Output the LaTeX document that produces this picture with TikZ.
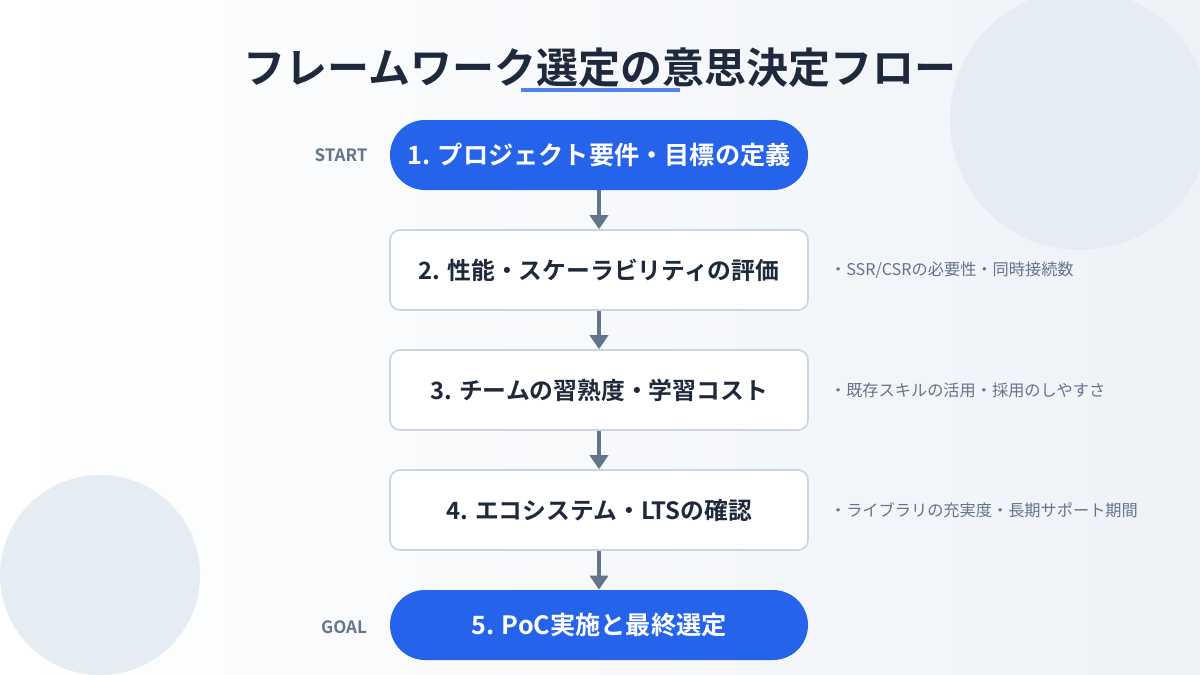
\documentclass[tikz,border=0pt]{standalone}
\usepackage{fontspec}
\setmainfont{Noto Sans CJK JP}
\newfontfamily\jpb{Noto Sans CJK JP Bold}
\usetikzlibrary{arrows.meta}
\definecolor{navy}{HTML}{1E293B}
\definecolor{blu}{HTML}{2563EB}
\definecolor{gry}{HTML}{64748B}
\definecolor{brd}{HTML}{CBD5E1}
\definecolor{circ}{HTML}{E6ECF4}
\definecolor{bgr}{HTML}{EEF2F7}
\tikzset{
 pill/.style={rectangle,rounded corners=17.5pt,fill=blu,minimum width=209pt,minimum height=35pt,text=white,font=\jpb\fontsize{12.6}{14}\selectfont},
 card/.style={rectangle,rounded corners=5pt,fill=white,draw=brd,line width=0.8pt,minimum width=209pt,minimum height=40pt,text=navy,font=\jpb\fontsize{11.9}{13}\selectfont},
 conn/.style={draw=gry,line width=2pt,-{Triangle[length=7pt,width=9pt]}},
 side/.style={anchor=west,text=gry,font=\fontsize{8.1}{9}\selectfont},
 tag/.style={text=gry,font=\jpb\fontsize{8.5}{10}\selectfont}
}
\begin{document}
\begin{tikzpicture}[x=0.5pt,y=-0.5pt]
\useasboundingbox (0,0) rectangle (1200,675);
\shade[left color=white,right color=bgr] (0,0) rectangle (1200,675);
\begin{scope}
\clip (0,0) rectangle (1200,675);
\fill[circ] (1080,120) circle (130);
\fill[circ] (100,575) circle (100);
\end{scope}
\node[text=navy,font=\jpb\fontsize{21}{26}\selectfont] (title) at (600,68) {フレームワーク選定の意思決定フロー};
\draw[line width=2pt,draw=blu!80!white] (521,90) -- (680,90);
\node[pill] (n1) at (599,155) {1. プロジェクト要件・目標の定義};
\node[card] (n2) at (599,270) {2. 性能・スケーラビリティの評価};
\node[card] (n3) at (599,390) {3. チームの習熟度・学習コスト};
\node[card] (n4) at (599,510) {4. エコシステム・LTSの確認};
\node[pill] (n5) at (599,625) {5. PoC実施と最終選定};
\draw[conn] (n1) -- (n2);
\draw[conn] (n2) -- (n3);
\draw[conn] (n3) -- (n4);
\draw[conn] (n4) -- (n5);
\node[tag] (s) at (341,155) {START};
\node[tag] (g) at (344,627) {GOAL};
\node[side] (d2) at (823,270) {・SSR/CSRの必要性・同時接続数};
\node[side] (d3) at (823,390) {・既存スキルの活用・採用のしやすさ};
\node[side] (d4) at (823,510) {・ライブラリの充実度・長期サポート期間};
\end{tikzpicture}
\end{document}
